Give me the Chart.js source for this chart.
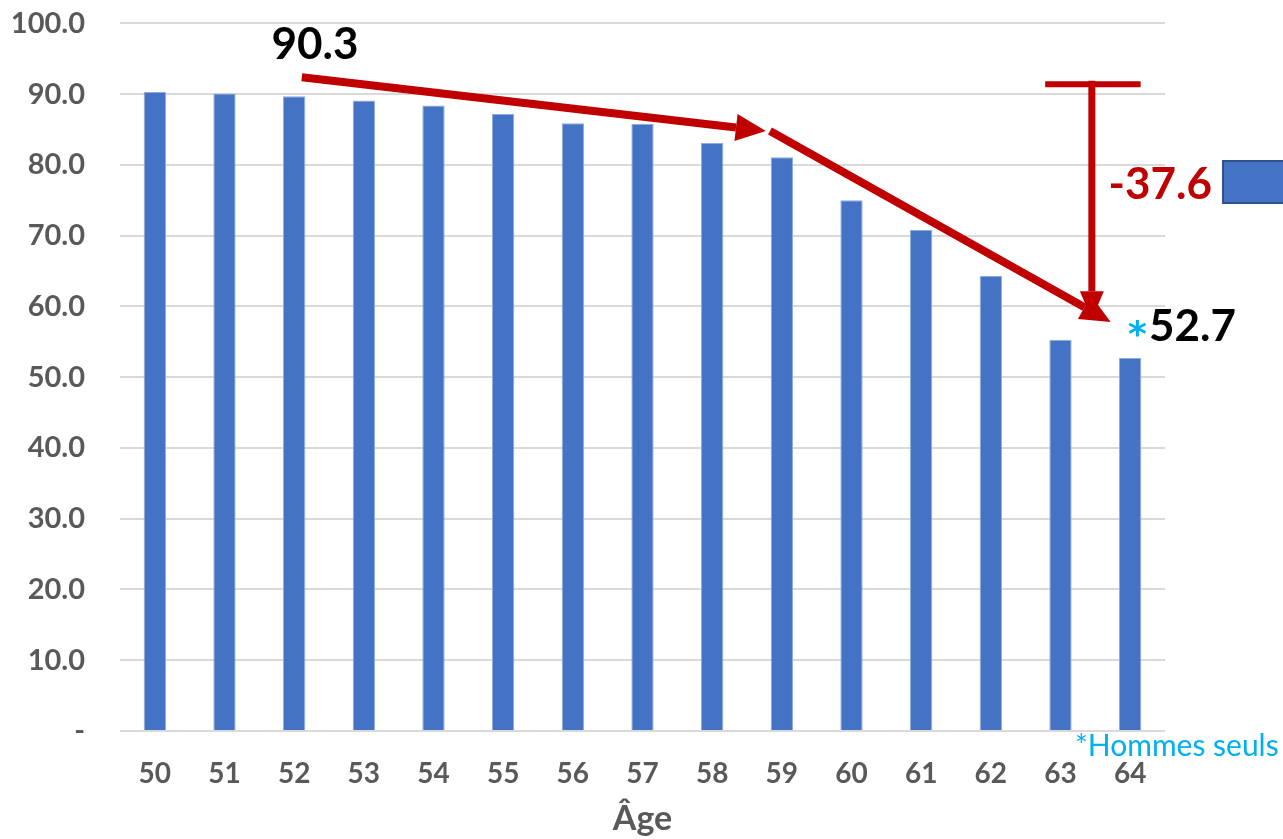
<!DOCTYPE html>
<html>
<head>
<meta charset="utf-8">
<script src="https://cdn.jsdelivr.net/npm/chart.js@4"></script>
<style>
  html, body { margin: 0; padding: 0; background: #fff; }
  #wrap { width: 1283px; height: 839px; }
</style>
</head>
<body>
<div id="wrap"><canvas id="myChart" width="1283" height="839"></canvas></div>
<script>
// Categories (age)
var ages = ['50', '51', '52', '53', '54', '55', '56', '57', '58', '59', '60', '61', '62', '63', '64'];

// Values
var values = [90.3, 90.1, 89.7, 89.1, 88.4, 87.2, 85.9, 85.8, 83.1, 81.1, 75.0, 70.8, 64.3, 55.3, 52.7];

// Y tick labels (0 shown as a dash)
var yTicks = [0, 10, 20, 30, 40, 50, 60, 70, 80, 90, 100];

var axisFont = "Lato, 'Open Sans', sans-serif";
var red = '#C00000';

// arrows and labels drawn on top of the chart, in data units
function drawArrow(ctx, x1, y1, x2, y2, width, headLen, headW) {
    var ang = Math.atan2(y2 - y1, x2 - x1);
    var bx = x2 - headLen * Math.cos(ang);
    var by = y2 - headLen * Math.sin(ang);
    ctx.beginPath();
    ctx.moveTo(x1, y1);
    ctx.lineTo(bx, by);
    ctx.lineWidth = width;
    ctx.strokeStyle = red;
    ctx.stroke();
    ctx.beginPath();
    ctx.moveTo(x2, y2);
    ctx.lineTo(bx + headW / 2 * Math.sin(ang), by - headW / 2 * Math.cos(ang));
    ctx.lineTo(bx - headW / 2 * Math.sin(ang), by + headW / 2 * Math.cos(ang));
    ctx.closePath();
    ctx.fillStyle = red;
    ctx.fill();
}

var annotations = {
    id: 'annotations',
    afterDatasetsDraw: function(chart) {
        var ctx = chart.ctx;
        var xs = chart.scales.x, ys = chart.scales.y;
        var X = function(i) { return xs.getPixelForValue(i); };
        var Y = function(v) { return ys.getPixelForValue(v); };
        ctx.save();
        ctx.lineCap = 'butt';

        // trend arrows
        drawArrow(ctx, X(2.11), Y(92.4), X(8.77), Y(84.8), 8, 30, 27);
        drawArrow(ctx, X(8.83), Y(84.8), X(13.72), Y(57.8), 8, 30, 27);

        // drop indicator
        ctx.beginPath();
        ctx.moveTo(X(12.78), Y(91.4));
        ctx.lineTo(X(14.15), Y(91.4));
        ctx.lineWidth = 6;
        ctx.strokeStyle = red;
        ctx.stroke();
        drawArrow(ctx, X(13.45), Y(91.9), X(13.45), Y(58.2), 7, 28, 24);

        // labels
        ctx.textBaseline = 'middle';
        ctx.font = "bold 44px " + axisFont;
        ctx.fillStyle = '#000';
        ctx.textAlign = 'center';
        ctx.fillText('90.3', X(2.3), 45);

        ctx.fillStyle = red;
        ctx.textAlign = 'right';
        ctx.fillText('-37.6', 1212, 185);

        ctx.textAlign = 'left';
        ctx.textBaseline = 'alphabetic';
        ctx.font = "bold 36px 'DejaVu Sans', sans-serif";
        ctx.fillStyle = '#00B0F0';
        ctx.fillText('*', 1128, 346);
        ctx.textBaseline = 'middle';
        ctx.font = "bold 44px " + axisFont;
        ctx.fillStyle = '#000';
        ctx.fillText('52.7', 1149, 327);

        ctx.font = "30px " + axisFont;
        ctx.fillStyle = '#00B0F0';
        ctx.fillText('*Hommes seuls', 1075, 746);

        // legend fragment on the right edge
        ctx.fillStyle = '#4472C4';
        ctx.fillRect(1223, 161, 62, 42);
        ctx.strokeStyle = '#2F528F';
        ctx.lineWidth = 2;
        ctx.strokeRect(1223, 161, 62, 42);

        ctx.restore();
    }
};

const ctx = document.getElementById('myChart').getContext('2d');
const myChart = new Chart(ctx, {
    type: 'bar',
    data: {
        labels: ages,
        datasets: [{
            label: 'Taux',
            data: values,
            backgroundColor: '#4472C4',
            borderColor: '#8FAADC',
            borderWidth: 1,
            barPercentage: 0.32,
            categoryPercentage: 1.0
        }]
    },
    options: {
        responsive: false,
        animation: false,
        layout: { padding: { top: 0, right: 118, bottom: 0, left: 0 } },
        plugins: {
            legend: { display: false },
            tooltip: { enabled: false }
        },
        scales: {
            x: {
                grid: { display: false, drawTicks: false },
                border: { display: false },
                ticks: {
                    color: '#595959',
                    font: { family: axisFont, size: 28, weight: 'bold' },
                    padding: 26
                },
                title: {
                    display: true,
                    text: 'Âge',
                    color: '#595959',
                    font: { family: axisFont, size: 34, weight: 'bold' },
                    padding: { top: 12, bottom: 0 }
                },
                afterFit: function(s) { s.height = 108; }
            },
            y: {
                min: 0,
                max: 100,
                afterBuildTicks: function(s) {
                    s.ticks = yTicks.map(function(v) { return { value: v }; });
                },
                grid: { color: '#D9D9D9', lineWidth: 2, drawTicks: true, tickLength: 29, tickColor: 'rgba(0,0,0,0)' },
                border: { display: false },
                ticks: {
                    color: '#595959',
                    font: { family: axisFont, size: 29, weight: 'bold' },
                    padding: 6,
                    callback: function(v) { return v === 0 ? '-' : v.toFixed(1); }
                },
                afterFit: function(s) { s.width = 120; }
            }
        }
    },
    plugins: [annotations]
});
</script>
</body>
</html>
